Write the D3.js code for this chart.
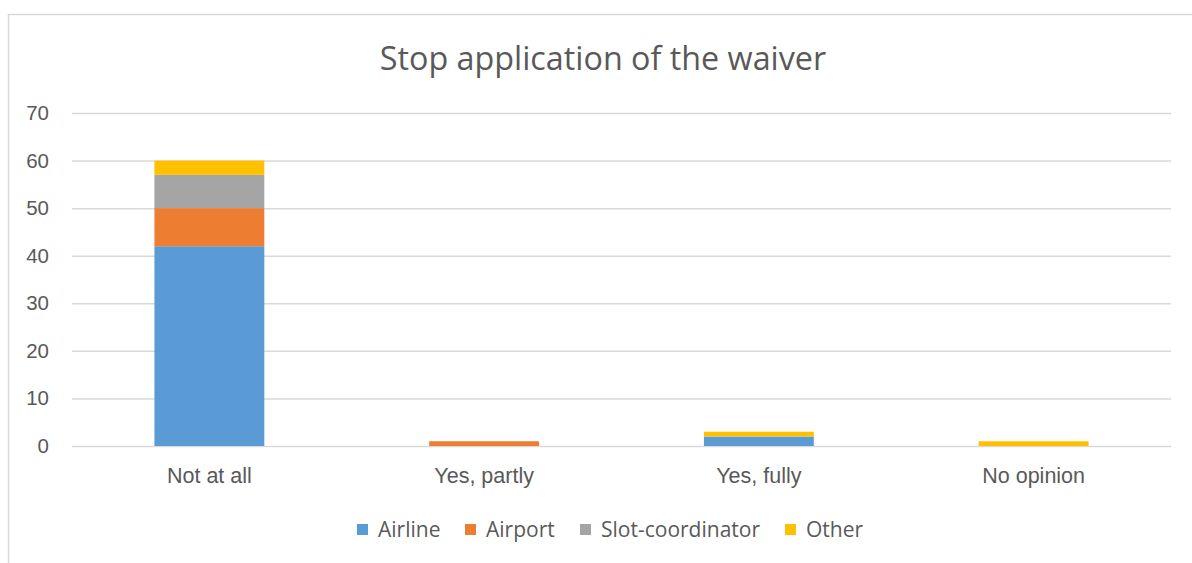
<!DOCTYPE html>
<html><head><meta charset="utf-8">
<script src="https://cdn.jsdelivr.net/npm/d3@7"></script>
<style>body{margin:0;background:#fff;}svg{display:block;font-family:"Open Sans",Calibri,sans-serif;}</style>
</head><body>
<svg id="c" width="1192" height="563"></svg>
<script>
const categories = ["Not at all","Yes, partly","Yes, fully","No opinion"];
const seriesNames = ["Airline","Airport","Slot-coordinator","Other"];
const airline = [42,0,2,0];
const airport = [8,1,0,0];
const slotCoordinator = [7,0,0,0];
const other = [3,0,1,1];
const colors = ["#5b9bd5","#ed7d31","#a5a5a5","#ffc000"];
const yTicks = [0,10,20,30,40,50,60,70];

const svg = d3.select("#c");
svg.append("rect").attr("x",8.5).attr("y",14.5).attr("width",1300).attr("height",700)
  .attr("fill","#fff").attr("stroke","#d9d9d9").attr("stroke-width",1.5);

const pL=72,pR=1171,pT=113,pB=446;
const x = d3.scaleBand().domain(categories).range([pL,pR]).paddingInner(0.6).paddingOuter(0.3);
const y = d3.scaleLinear().domain([0,70]).range([pB,pT]);

svg.append("text").attr("x",603).attr("y",70).attr("text-anchor","middle")
  .attr("font-size",32.3).attr("fill","#595959").text("Stop application of the waiver");

const yAxis = d3.axisLeft(y).tickValues(yTicks).tickSize(-(pR-pL)).tickPadding(23);
const gy = svg.append("g").attr("transform",`translate(${pL},0)`).call(yAxis);
gy.select(".domain").remove();
gy.selectAll(".tick line").attr("stroke","#d9d9d9").attr("stroke-width",1.5);
gy.selectAll(".tick text").attr("fill","#595959").attr("font-size",20.5);

const data = categories.map((c,i)=>({cat:c,Airline:airline[i],Airport:airport[i],"Slot-coordinator":slotCoordinator[i],Other:other[i]}));
const stack = d3.stack().keys(seriesNames)(data);
svg.append("g").selectAll("g").data(stack).join("g").attr("fill",(d,i)=>colors[i])
  .selectAll("rect").data(d=>d).join("rect")
  .attr("x",d=>x(d.data.cat)).attr("width",x.bandwidth())
  .attr("y",d=>y(d[1])).attr("height",d=>y(d[0])-y(d[1]));

const xAxis = d3.axisBottom(x).tickSize(0).tickPadding(22);
const gx = svg.append("g").attr("transform",`translate(0,${pB})`).call(xAxis);
gx.select(".domain").remove();
gx.selectAll(".tick text").attr("fill","#595959").attr("font-size",21.5);

const legendX = [357,465,580,785];
const lg = svg.append("g");
seriesNames.forEach((s,i)=>{
  lg.append("rect").attr("x",legendX[i]).attr("y",524).attr("width",11).attr("height",11).attr("fill",colors[i]);
  lg.append("text").attr("x",legendX[i]+21).attr("y",537).attr("font-size",21).attr("fill","#595959").text(s);
});
</script>
</body></html>
